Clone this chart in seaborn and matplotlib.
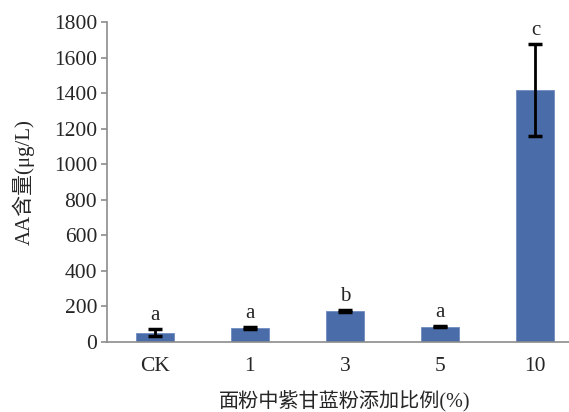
import matplotlib
matplotlib.use("Agg")
import matplotlib.pyplot as plt
import seaborn as sns
import pandas as pd

# Acrylamide content by purple-cabbage powder ratio
ratios = ["CK", "1", "3", "5", "10"]
aa_mean = [53, 78, 174, 86, 1417]
aa_sd = [20, 5, 5, 3, 260]
groups = ["a", "a", "b", "a", "c"]
y_ticks = [0, 200, 400, 600, 800, 1000, 1200, 1400, 1600, 1800]

sns.set_theme(style="white")
plt.rcParams["font.family"] = ["Liberation Serif", "Noto Sans CJK SC"]

df = pd.DataFrame({"ratio": ratios, "aa": aa_mean})

fig = plt.figure(figsize=(5.69, 4.12), dpi=100)
ax = fig.add_axes([0.188, 0.170, 0.8366, 0.7767])

sns.barplot(data=df, x="ratio", y="aa", order=ratios, color="#4A6CA8",
            saturation=1, width=0.4, errorbar=None, ax=ax,
            edgecolor="#6F8CC0", linewidth=0.6)

xs = range(len(ratios))
ax.errorbar(list(xs), aa_mean, yerr=aa_sd, fmt="none", ecolor="black",
            elinewidth=2.0, capsize=5, capthick=2.5, zorder=5)

for x, m, s, g in zip(xs, aa_mean, aa_sd, groups):
    ax.annotate(g, (x, m + s), xytext=(0, 3), textcoords="offset points",
                ha="center", va="bottom", fontsize=15)

ax.set_ylim(0, 1800)
ax.set_yticks(y_ticks)
ax.set_xlim(-0.5, len(ratios) - 0.5)

for side in ["top", "right"]:
    ax.spines[side].set_visible(False)
for side in ["left", "bottom"]:
    ax.spines[side].set_color("#8C8C8C")
    ax.spines[side].set_linewidth(1.2)

ax.tick_params(axis="y", which="major", direction="out", length=4, width=1.2,
               color="#8C8C8C", left=True, labelsize=15.5, pad=3)
ax.tick_params(axis="x", which="major", length=0, labelsize=15.5, pad=11)

ax.set_ylabel("AA含量(μg/L)", fontsize=15, labelpad=14)
ax.set_xlabel("面粉中紫甘蓝粉添加比例(%)", fontsize=14.5, labelpad=10)

fig.savefig("out.png", dpi=100)
